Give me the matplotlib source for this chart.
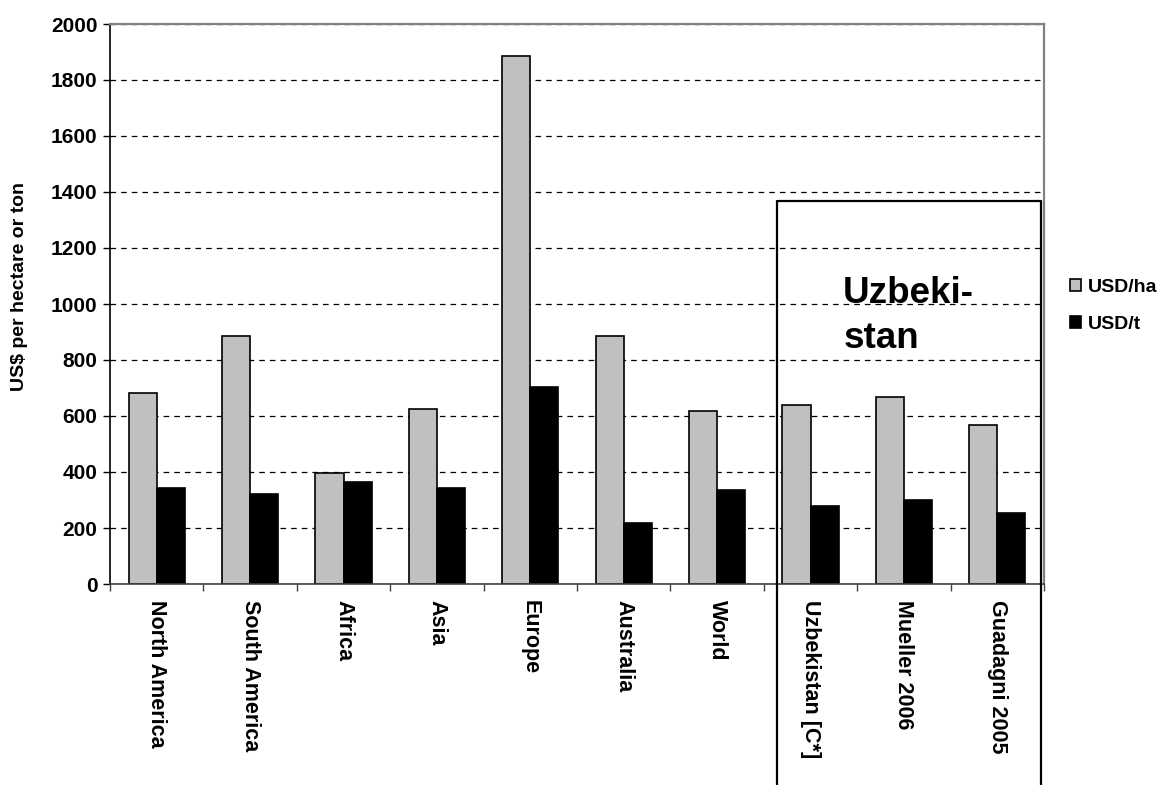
import matplotlib.pyplot as plt
import numpy as np

plt.rcParams['font.family'] = ['Liberation Sans', 'DejaVu Sans']
plt.rcParams['font.weight'] = 'bold'

categories = ['North America', 'South America', 'Africa', 'Asia', 'Europe',
              'Australia', 'World', 'Uzbekistan [C*]', 'Mueller 2006', 'Guadagni 2005']
usd_ha = [681, 887, 398, 624, 1886, 887, 618, 639, 667, 567]
usd_t = [342, 321, 363, 342, 705, 217, 336, 279, 300, 252]
yticks = [0, 200, 400, 600, 800, 1000, 1200, 1400, 1600, 1800, 2000]

fig = plt.figure(figsize=(11.66, 7.85), dpi=100)
ax = fig.add_axes([110 / 1166, 1 - 584 / 785, 934 / 1166, 560 / 785])

x = np.arange(len(categories))
w = 0.3
ax.bar(x - w / 2, usd_ha, w, color='#c0c0c0', edgecolor='black', linewidth=1.2, label='USD/ha')
ax.bar(x + w / 2, usd_t, w, color='black', edgecolor='black', linewidth=1.2, label='USD/t')

ax.set_xlim(-0.5, len(categories) - 0.5)
ax.set_ylim(0, 2000)
ax.set_yticks(yticks)
ax.set_yticklabels([str(v) for v in yticks], fontsize=15, fontweight='bold')
ax.tick_params(axis='y', length=5, width=1, pad=4)

# labels at the centers, tick marks on the category boundaries
ax.set_xticks(x)
ax.set_xticklabels(categories, rotation=-90, fontsize=15.5, fontweight='bold', va='top')
ax.tick_params(axis='x', which='major', length=0, pad=11.5)
ax.set_xticks(np.arange(len(categories) + 1) - 0.5, minor=True)
ax.tick_params(axis='x', which='minor', length=5, width=1, color='#404040')

ax.set_axisbelow(True)
ax.yaxis.grid(True, color='black', linewidth=0.9, linestyle=(0, (4.5, 4)))

ax.spines['left'].set_color('black')
ax.spines['left'].set_linewidth(1.2)
ax.spines['bottom'].set_color('#404040')
ax.spines['bottom'].set_linewidth(1.2)
for s in ['top', 'right']:
    ax.spines[s].set_color('#808080')
    ax.spines[s].set_linewidth(1.6)

fig.text(20 / 1166, 1 - 287 / 785, 'US$ per hectare or ton', rotation=90,
         ha='center', va='center', fontsize=14, fontweight='bold')

# box around the Uzbekistan group, running off the bottom of the figure
bx0, bx1, btop, bbot = 6.64, 9.47, 1369, -740
ax.plot([bx0, bx0, bx1, bx1], [bbot, btop, btop, bbot], color='black',
        linewidth=1.6, clip_on=False, zorder=5)
ax.text(7.35, 1004, 'Uzbeki-', fontsize=26.5, fontweight='bold', ha='left', va='baseline')
ax.text(7.35, 844, 'stan', fontsize=26.5, fontweight='bold', ha='left', va='baseline')

fig.legend(loc='center left', bbox_to_anchor=(1070 / 1166, 1 - 306 / 785), frameon=False,
           prop={'weight': 'bold', 'size': 14}, handlelength=0.55,
           handleheight=0.55, handletextpad=0.35, labelspacing=1.05, borderpad=0,
           borderaxespad=0)

fig.savefig('out.png', dpi=100)
